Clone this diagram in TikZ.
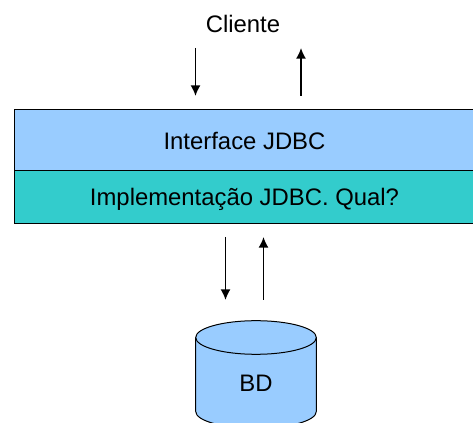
\documentclass[tikz,border=0pt]{standalone}
\usepackage{fontspec}
\setmainfont{Liberation Sans}
\usetikzlibrary{arrows.meta}
\definecolor{boxblue}{HTML}{99CCFF}
\definecolor{boxteal}{HTML}{33CCCC}
\tikzset{
	layer/.style={draw=black, line width=0.75pt, minimum width=345pt, inner sep=0pt, outer sep=0pt},
	label/.style={font=\fontsize{17.9pt}{20pt}\selectfont, text=black, inner sep=0pt, anchor=base},
	flow/.style={draw=black, line width=1.2pt, -{Latex[length=8pt,width=7.5pt]}}
}

\begin{document}
\begin{tikzpicture}[x=0.75pt, y=0.75pt]
	\useasboundingbox (0, 0) rectangle (473, 423);
	
	%%%%% LAYERS %%%%%
	\node[layer, fill=boxblue, minimum height=45.4pt] (interface) at (244.5, 283.2) {};
	\node[layer, fill=boxteal, minimum height=40pt] (impl) at (244.5, 226.2) {};
	\node[label] (interfacetext) at (244.5, 273) {Interface JDBC};
	\node[label] (impltext) at (244.5, 217) {Implementação JDBC. Qual?};
	\node[label] (cliente) at (243, 390.2) {Cliente};
	
	%%%%% ARROWS %%%%%
	\coordinate (down1a) at (195.5, 375);
	\coordinate (down1b) at (195.5, 327);
	\coordinate (up1a) at (301, 327);
	\coordinate (up1b) at (301, 375);
	\coordinate (down2a) at (225.5, 186);
	\coordinate (down2b) at (225.5, 123);
	\coordinate (up2a) at (263.5, 123);
	\coordinate (up2b) at (263.5, 186);
	\draw[flow] (down1a) -- (down1b);
	\draw[flow] (up1a) -- (up1b);
	\draw[flow] (down2a) -- (down2b);
	\draw[flow] (up2a) -- (up2b);
	
	%%%%% DATABASE %%%%%
	\draw[fill=boxblue, line width=0.75pt] (195.7, 85.5) -- (195.7, 11.5) arc (180:360:60.3 and 16.8) -- (316.3, 85.5);
	\draw[fill=boxblue, line width=0.75pt] (256, 85.5) ellipse (60.3 and 16.8);
	\node[label] (bd) at (256, 31) {BD};
\end{tikzpicture}
\end{document}
